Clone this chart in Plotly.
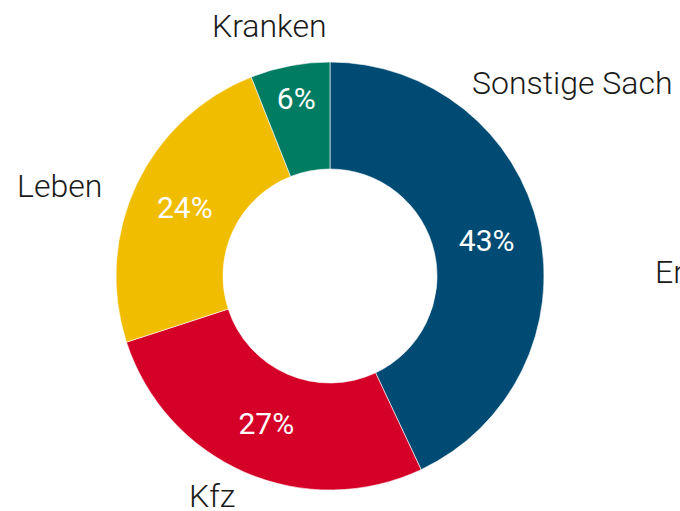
import plotly.graph_objects as go

categories = ["Sonstige Sach", "Kfz", "Leben", "Kranken"]
shares = [43, 27, 24, 6]
colors = ["#004B73", "#D50027", "#F0BD00", "#007C63"]
side_note = "Er"

W, H = 680, 511

fig = go.Figure()
fig.add_trace(go.Pie(
    labels=categories,
    values=shares,
    sort=False,
    direction="clockwise",
    rotation=0,
    hole=0.5,
    marker=dict(colors=colors, line=dict(color="#FFFFFF", width=0.6)),
    texttemplate="%{value}%",
    textposition="inside",
    insidetextorientation="horizontal",
    insidetextfont=dict(family="Roboto", size=30, color="#FFFFFF", weight=400),
    domain=dict(x=[116 / W, 544 / W], y=[1 - 490 / H, 1 - 62 / H]),
    showlegend=False,
    hoverinfo="label+percent",
))

label_pos = {
    "Sonstige Sach": (470, 83, "left"),
    "Kfz": (187, 496, "left"),
    "Leben": (15, 186, "left"),
    "Kranken": (210, 26, "left"),
}
label_font = dict(family="Roboto", size=32, color="#1A1A1A", weight=300)
annotations = []
for cat in categories:
    px, py, anchor = label_pos[cat]
    annotations.append(dict(
        text=cat, x=px / W, y=1 - py / H, xref="paper", yref="paper",
        xanchor=anchor, yanchor="middle", showarrow=False,
        font=label_font,
    ))
annotations.append(dict(
    text=side_note, x=653 / W, y=1 - 272 / H, xref="paper", yref="paper",
    xanchor="left", yanchor="middle", showarrow=False,
    font=label_font,
))

fig.update_layout(
    width=W, height=H,
    margin=dict(l=0, r=0, t=0, b=0),
    paper_bgcolor="#FFFFFF",
    plot_bgcolor="#FFFFFF",
    annotations=annotations,
    uniformtext=dict(minsize=30, mode="show"),
)

fig.write_html("out.html", config={"displayModeBar": False})
with open("out.html", "r", encoding="utf-8") as f:
    html = f.read()
html = html.replace("<body>", '<body style="margin:0;padding:0;overflow:hidden">', 1)
with open("out.html", "w", encoding="utf-8") as f:
    f.write(html)
